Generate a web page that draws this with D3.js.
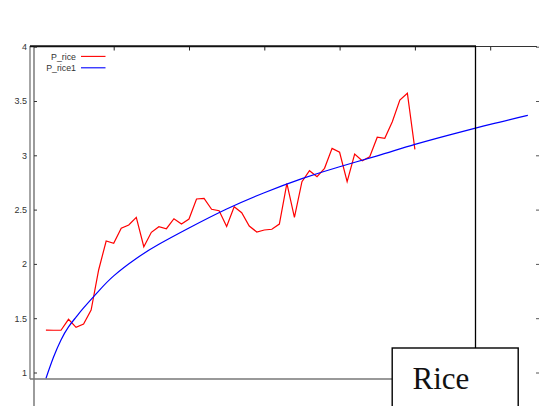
<!DOCTYPE html>
<html><head><meta charset="utf-8">
<script src="https://cdn.jsdelivr.net/npm/d3@7"></script>
<style>body{margin:0;background:#fff;overflow:hidden;} svg{display:block;}</style>
</head><body><svg id="c" width="539" height="406"></svg>
<script>
// ---- data ----
const riceT = [1,2,3,4,5,6,7,8,9,10,11,12,13,14,15,16,17,18,19,20,21,22,23,24,25,26,27,28,29,30,31,32,33,34,35,36,37,38,39,40,41,42,43,44,45,46,47,48,49,50];
const riceValues = [1.39,1.389,1.389,1.49,1.416,1.447,1.575,1.944,2.211,2.19,2.328,2.358,2.429,2.158,2.291,2.343,2.324,2.416,2.367,2.413,2.598,2.604,2.503,2.49,2.344,2.527,2.471,2.349,2.294,2.312,2.319,2.367,2.742,2.429,2.757,2.858,2.803,2.88,3.064,3.028,2.757,3.012,2.95,2.987,3.166,3.157,3.309,3.509,3.571,3.055];
const fitT = [1,2,3,4,5,6,8,10,13,16,20,25,30,35,40,45,50,55,60,65];
const fitValues = [0.945,1.14,1.30,1.42,1.51,1.595,1.75,1.89,2.05,2.18,2.33,2.505,2.655,2.785,2.895,2.995,3.1,3.195,3.285,3.368];
const yTicks = [1,1.5,2,2.5,3,3.5,4];
const yTickLabels = ["1","1.5","2","2.5","3","3.5","4"];
const xTicks = [10,20,30,40,50,60];
const seriesNames = ["P_rice","P_rice1"];
const seriesColors = ["#ff0000","#0000ff"];
const boxLabel = "Rice";

// ---- drawing ----
const svg = d3.select("#c");
const x = d3.scaleLinear().domain([0,60]).range([38.4, 490.2]);
const y = d3.scaleLinear().domain([1,4]).range([372.5, 46.7]);
const ink = "#333";

svg.append("defs").append("clipPath").attr("id","clip")
  .append("rect").attr("x",34).attr("y",46).attr("width",505).attr("height",333);
svg.append("path").datum(riceT.map((t,i)=>[t,riceValues[i]]))
  .attr("d",d3.line().x(d=>x(d[0])).y(d=>y(d[1])))
  .attr("fill","none").attr("stroke",seriesColors[0]).attr("stroke-width",1.2)
  .attr("clip-path","url(#clip)");
svg.append("path").datum(fitT.map((t,i)=>[t,fitValues[i]]))
  .attr("d",d3.line().x(d=>x(d[0])).y(d=>y(d[1])).curve(d3.curveNatural))
  .attr("fill","none").attr("stroke",seriesColors[1]).attr("stroke-width",1.2)
  .attr("clip-path","url(#clip)");

// frame lines
svg.append("line").attr("x1",30).attr("x2",30).attr("y1",46).attr("y2",379).attr("stroke","#777").attr("stroke-width",1.3);
svg.append("line").attr("x1",34).attr("x2",34).attr("y1",46).attr("y2",406).attr("stroke","#666").attr("stroke-width",1.3);
svg.append("line").attr("x1",30).attr("x2",392).attr("y1",379).attr("y2",379).attr("stroke","#777").attr("stroke-width",1.5);
svg.append("line").attr("x1",30).attr("x2",476).attr("y1",46.2).attr("y2",46.2).attr("stroke","#111").attr("stroke-width",2);
svg.append("line").attr("x1",476).attr("x2",537).attr("y1",46.5).attr("y2",46.5).attr("stroke","#333").attr("stroke-width",1);
svg.append("line").attr("x1",475.5).attr("x2",475.5).attr("y1",46).attr("y2",348).attr("stroke","#000").attr("stroke-width",1.3);

// left axis
const ay = svg.append("g").attr("transform","translate(34,0)")
  .call(d3.axisLeft(y).tickValues(yTicks).tickFormat((d,i)=>yTickLabels[i]).tickSizeInner(-3).tickSizeOuter(0).tickPadding(7));
ay.select(".domain").remove();
ay.selectAll("line").attr("stroke",ink);
ay.selectAll("text").attr("fill",ink).style("font-family","'Liberation Sans', Arial, sans-serif").style("font-size","9px");

// right ticks
const ry = svg.append("g").attr("transform","translate(539,0)")
  .call(d3.axisLeft(y).tickValues(yTicks).tickFormat("").tickSizeInner(3).tickSizeOuter(0));
ry.select(".domain").remove();
ry.selectAll("line").attr("stroke","#555");

// top ticks
const ax = svg.append("g").attr("transform","translate(0,47)")
  .call(d3.axisTop(x).tickValues(xTicks).tickFormat("").tickSizeInner(-3.5).tickSizeOuter(0));
ax.select(".domain").remove();
ax.selectAll("line").attr("stroke","#222");

// legend
const lg = svg.append("g");
seriesNames.forEach((n,i)=>{
  const yy = 57 + i*11.4;
  lg.append("text").attr("x",76).attr("y",yy+3).attr("text-anchor","end")
    .attr("fill",ink).style("font-family","'Liberation Sans', Arial, sans-serif").style("font-size","8.8px").text(n);
  lg.append("line").attr("x1",81).attr("x2",105.5).attr("y1",yy-0.6).attr("y2",yy-0.6)
    .attr("stroke",seriesColors[i]).attr("stroke-width",1.1);
});

// Rice box
svg.append("rect").attr("x",392.2).attr("y",348).attr("width",126).attr("height",70)
  .attr("fill","#fff").attr("stroke","#000").attr("stroke-width",1.4);
svg.append("text").attr("x",412.5).attr("y",388.5).attr("fill","#111")
  .style("font-family","'Liberation Serif', 'Times New Roman', serif").style("font-size","31px").text(boxLabel);
</script></body></html>
